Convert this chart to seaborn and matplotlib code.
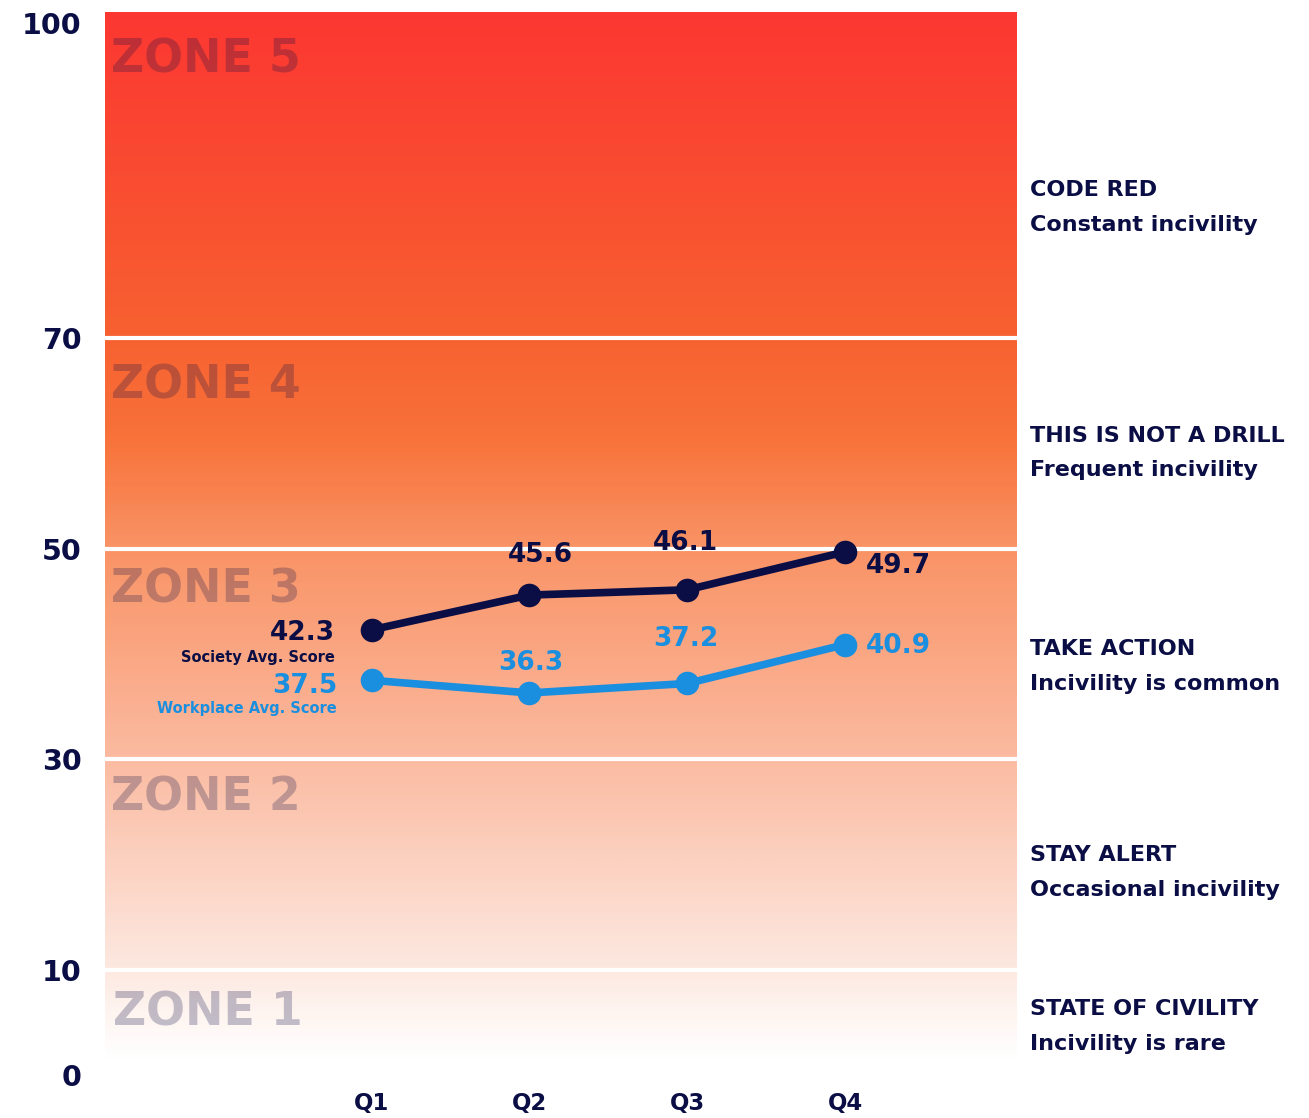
import numpy as np
import matplotlib.pyplot as plt
import pandas as pd
import seaborn as sns
from matplotlib.colors import LinearSegmentedColormap

# data
quarters = ['Q1', 'Q2', 'Q3', 'Q4']
society = [42.3, 45.6, 46.1, 49.7]
workplace = [37.5, 36.3, 37.2, 40.9]
y_ticks = [0, 10, 30, 50, 70, 100]
zone_lines = [10, 30, 50, 70]
zone_names = ['ZONE 1', 'ZONE 2', 'ZONE 3', 'ZONE 4', 'ZONE 5']
zone_tops = [8.0, 28.5, 48.2, 67.6, 98.6]
zone_titles = ['STATE OF CIVILITY', 'STAY ALERT', 'TAKE ACTION', 'THIS IS NOT A DRILL', 'CODE RED']
zone_desc = ['Incivility is rare', 'Occasional incivility', 'Incivility is common',
             'Frequent incivility', 'Constant incivility']
zone_text_y = [4.6, 19.2, 38.8, 59.1, 82.4]

NAVY = '#0b0e45'
BLUE = '#1a8fdf'

sns.set_style('white')
plt.rcParams['font.family'] = ['DejaVu Sans']

df = pd.DataFrame({
    'x': list(range(4)) * 2,
    'score': society + workplace,
    'series': ['Society'] * 4 + ['Workplace'] * 4,
})

fig = plt.figure(figsize=(13.09, 11.18), dpi=100)
ax = fig.add_axes([105 / 1309, 1 - 1075 / 1118, 912 / 1309, 1063 / 1118])
ax.set_xlim(-1.69, 4.09)
ax.set_ylim(0, 101)

# gradient background
cmap = LinearSegmentedColormap.from_list('heat', [
    (0.0, (1, 1, 1)),
    (0.015, (1, 1, 1)),
    (0.10, (253/255, 232/255, 224/255)),
    (0.30, (251/255, 186/255, 160/255)),
    (0.50, (249/255, 146/255, 100/255)),
    (0.60, (248/255, 114/255, 58/255)),
    (0.70, (247/255, 96/255, 48/255)),
    (1.0, (252/255, 55/255, 50/255)),
])
grad = np.linspace(0, 1, 500).reshape(-1, 1)
ax.imshow(grad, extent=[-1.69, 4.09, 0, 101], origin='lower', aspect='auto', cmap=cmap, zorder=0)

for v in zone_lines:
    ax.axhline(v, color='white', lw=3, zorder=1)

for i, (name, top) in enumerate(zip(zone_names, zone_tops)):
    x0 = -1.64 if i == 0 else -1.655
    ax.text(x0, top, name, fontsize=33, fontweight='bold', color=NAVY, alpha=0.25,
            ha='left', va='top', zorder=1)

sns.lineplot(data=df, x='x', y='score', hue='series', palette=[NAVY, BLUE], marker='o',
             markersize=17, markeredgewidth=0, linewidth=5.5, legend=False, ax=ax, zorder=3)

# value labels
ax.text(-0.23, 42.0, '42.3', fontsize=19, fontweight='bold', color=NAVY, ha='right', va='center')
ax.text(-0.23, 39.7, 'Society Avg. Score', fontsize=10.5, fontweight='bold', color=NAVY, ha='right', va='center')
ax.text(-0.22, 37.0, '37.5', fontsize=19, fontweight='bold', color=BLUE, ha='right', va='center')
ax.text(-0.22, 34.85, 'Workplace Avg. Score', fontsize=10.5, fontweight='bold', color=BLUE, ha='right', va='center')
ax.text(1.07, 49.4, '45.6', fontsize=19, fontweight='bold', color=NAVY, ha='center', va='center')
ax.text(1.99, 50.5, '46.1', fontsize=19, fontweight='bold', color=NAVY, ha='center', va='center')
ax.text(3.13, 48.4, '49.7', fontsize=19, fontweight='bold', color=NAVY, ha='left', va='center')
ax.text(1.01, 39.1, '36.3', fontsize=19, fontweight='bold', color=BLUE, ha='center', va='center')
ax.text(1.99, 41.4, '37.2', fontsize=19, fontweight='bold', color=BLUE, ha='center', va='center')
ax.text(3.13, 40.8, '40.9', fontsize=19, fontweight='bold', color=BLUE, ha='left', va='center')

# right side descriptions
for t, d, y in zip(zone_titles, zone_desc, zone_text_y):
    ax.text(4.17, y + 1.66, t, fontsize=16, fontweight='bold', color=NAVY, ha='left', va='center', clip_on=False)
    ax.text(4.17, y - 1.66, d, fontsize=16, fontweight='bold', color=NAVY, ha='left', va='center', clip_on=False)

ax.set_xticks(range(4))
ax.set_xticklabels(quarters, fontsize=16.5, fontweight='bold', color=NAVY)
ax.set_yticks(y_ticks)
ax.set_yticklabels([str(v) for v in y_ticks], fontsize=20.5, fontweight='bold', color=NAVY)
ax.tick_params(axis='y', length=0, pad=17)
ax.tick_params(axis='x', length=0, pad=12)
ax.set_xlabel('')
ax.set_ylabel('')
sns.despine(ax=ax, left=True, bottom=True)

fig.savefig('out.png', dpi=100)
